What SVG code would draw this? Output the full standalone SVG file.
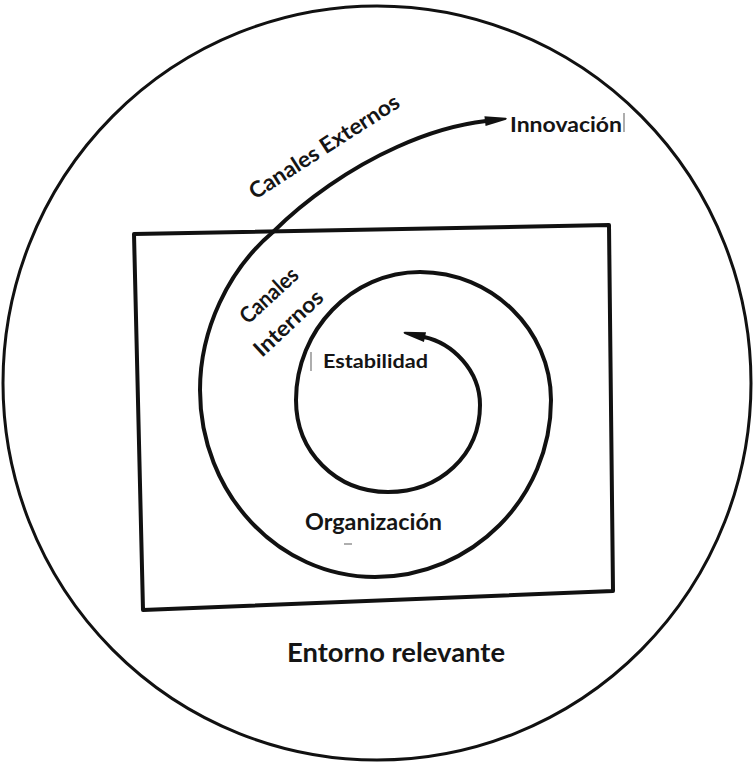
<svg xmlns="http://www.w3.org/2000/svg" width="753" height="763" viewBox="0 0 753 763">
  <style>
    .ink { fill: none; stroke: #111; stroke-linejoin: round; stroke-linecap: round; }
    .lbl { font-family: Lato, "Open Sans", "Liberation Sans", sans-serif; font-weight: 700; fill: #151515; }
    .stray { stroke: #777; stroke-width: 1.2; }
  </style>
  <defs>
    <marker id="head" markerUnits="userSpaceOnUse" markerWidth="30" markerHeight="20" refX="1" refY="0" viewBox="0 -10 30 20" orient="auto-start-reverse" overflow="visible">
      <path d="M0,-5 L21,-1 L22,0 L21,1 L0,5 Z" fill="#111"/>
    </marker>
  </defs>

  <rect width="753" height="763" fill="#fff"/>

  <!-- surrounding environment -->
  <g id="entorno">
    <ellipse class="ink" cx="377" cy="383" rx="374" ry="377" stroke-width="3"/>
    <text class="lbl" x="287" y="662" font-size="26" textLength="218" lengthAdjust="spacingAndGlyphs">Entorno relevante</text>
  </g>

  <!-- organisation boundary -->
  <g id="organizacion">
    <path class="ink" d="M134,234 L609,225 L613,591 L143,610 Z" stroke-width="4"/>
    <text class="lbl" x="305" y="530" font-size="22" textLength="137" lengthAdjust="spacingAndGlyphs">Organización</text>
    <line class="stray" x1="344" y1="544" x2="352" y2="544"/>
  </g>

  <g id="estabilidad">
    <text class="lbl" x="323" y="368" font-size="19" textLength="105" lengthAdjust="spacingAndGlyphs">Estabilidad</text>
    <line class="stray" x1="311" y1="352" x2="311" y2="371"/>
  </g>

  <g id="innovacion">
    <text class="lbl" x="510" y="132" font-size="21" textLength="112" lengthAdjust="spacingAndGlyphs">Innovación</text>
    <line class="stray" x1="624" y1="113" x2="624" y2="132"/>
  </g>

  <!-- spiral from stability outward to innovation -->
  <g id="connectors">
    <path class="ink" stroke-width="4" marker-start="url(#head)" marker-end="url(#head)"
      d="M424,337
         C452,343 480,370 480,405
         C480,455 440,492 388,492
         C336,492 296,452 296,400
         C296,330 352,272 420,272
         C492,272 551,330 551,400
         C551,498 472,577 375,577
         C278,577 200,493 200,390
         C200,330 228,270 273,232
         C305,200 350,168 397,147
         C430,132 460,124 486,121"/>
  </g>

  <g id="canales">
    <text class="lbl" font-size="22" transform="translate(255,200) rotate(-32.7)" textLength="174" lengthAdjust="spacingAndGlyphs">Canales Externos</text>
    <text class="lbl" font-size="22" transform="translate(248,325) rotate(-42.7)" textLength="71" lengthAdjust="spacingAndGlyphs">Canales</text>
    <text class="lbl" font-size="22" transform="translate(262,358) rotate(-43)" textLength="86" lengthAdjust="spacingAndGlyphs">Internos</text>
  </g>
</svg>
